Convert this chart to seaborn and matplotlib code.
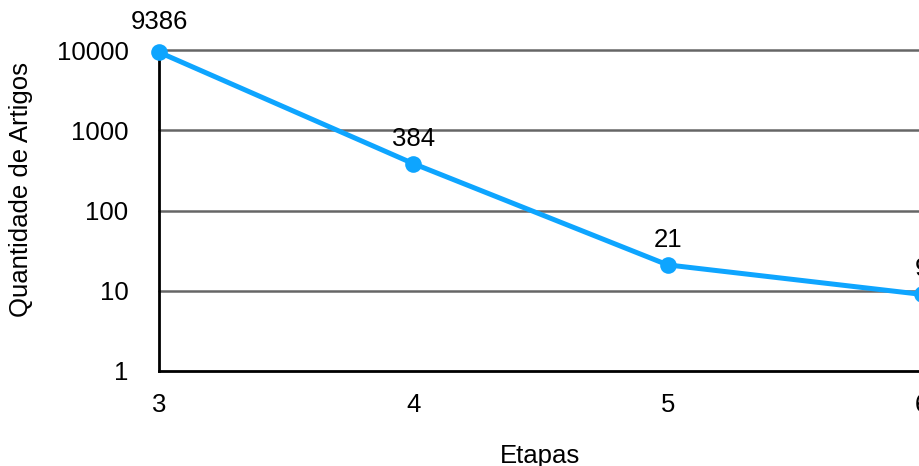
import numpy as np
import seaborn as sns
import matplotlib.pyplot as plt

# data
etapas = [3, 4, 5, 6]
artigos = [9386, 384, 21, 9]
y_ticks = [1, 10, 100, 1000, 10000]

sns.set_style('white', {'text.color': 'black', 'axes.labelcolor': 'black',
                        'xtick.color': 'black', 'ytick.color': 'black'})
plt.rcParams['font.family'] = ['Liberation Sans', 'DejaVu Sans']
fs = 18.5

fig = plt.figure(figsize=(9.19, 4.66), dpi=100)
# axes runs slightly past the right edge, like the cropped original
ax = fig.add_axes([159 / 919, 1 - 371 / 466, 763 / 919, 321 / 466])

ax.set_yscale('log')
ax.set_ylim(1, 10000)
ax.set_xlim(3, 6)

for t in y_ticks[1:]:
    ax.axhline(t, color='#666666', lw=1.8, zorder=1, clip_on=False)

sns.lineplot(x=etapas, y=artigos, ax=ax, color='#0ea5ff', lw=3.6,
             marker='o', markersize=12, markeredgewidth=0, zorder=3,
             clip_on=False)

# top label sits a bit higher than the others
for i, (x, y) in enumerate(zip(etapas, artigos)):
    off = 16.5 if i == 0 else 13
    ax.annotate(str(y), (x, y), xytext=(0, off), textcoords='offset points',
                ha='center', va='baseline', fontsize=fs, annotation_clip=False)

ax.set_xticks(etapas)
ax.set_xticklabels([str(e) for e in etapas])
ax.set_yticks(y_ticks)
ax.set_yticklabels([str(t) for t in y_ticks])
ax.minorticks_off()
ax.tick_params(axis='both', length=0, labelsize=fs)
ax.tick_params(axis='x', pad=16)
ax.tick_params(axis='y', pad=22)

for s in ['top', 'right']:
    ax.spines[s].set_visible(False)
for s in ['left', 'bottom']:
    ax.spines[s].set_color('black')
    ax.spines[s].set_linewidth(2)

ax.set_xlabel('Etapas', fontsize=fs, labelpad=19)
ax.set_ylabel('Quantidade de Artigos', fontsize=fs)
ax.yaxis.set_label_coords(-0.165, 0.564)

plt.savefig('out.png', dpi=100)
